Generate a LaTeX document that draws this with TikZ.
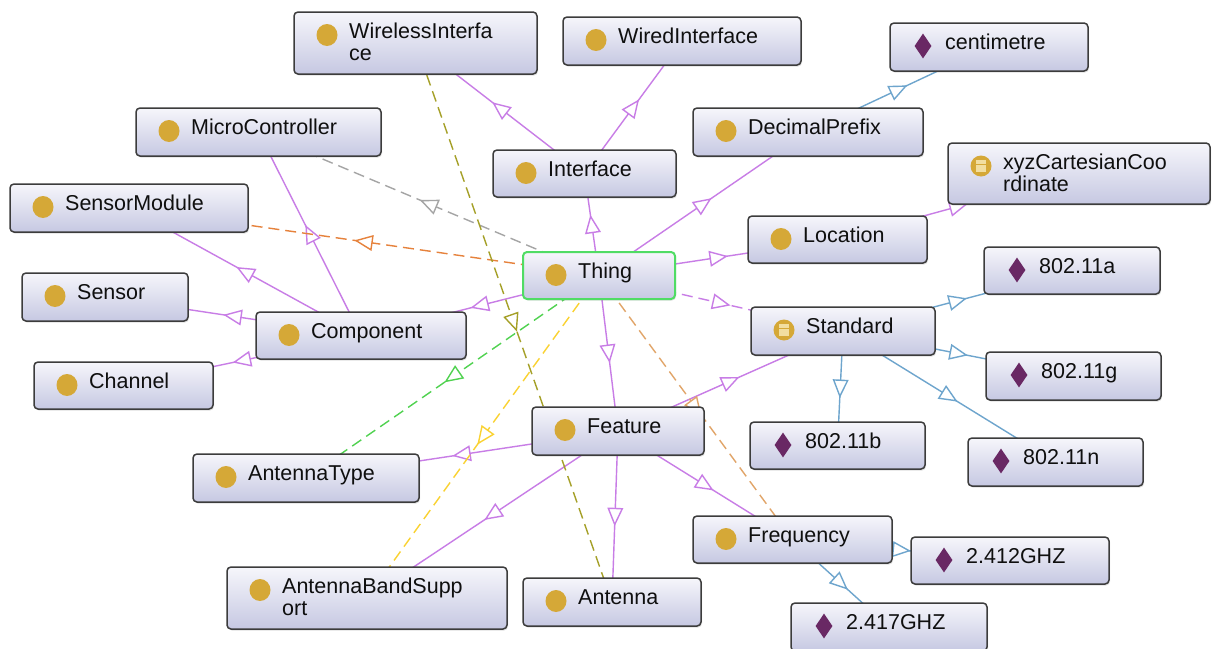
\documentclass[tikz,border=0pt]{standalone}
\usepackage{fontspec}
\setmainfont{Liberation Sans}
\usetikzlibrary{shapes.geometric,backgrounds,decorations.markings,shadows}

\definecolor{ogGold}{RGB}{213,168,55}
\definecolor{ogPale}{RGB}{242,222,160}
\definecolor{ogDia}{RGB}{105,40,100}
\definecolor{ogPurp}{RGB}{200,125,230}
\definecolor{ogBlue}{RGB}{110,165,205}
\definecolor{ogGray}{RGB}{165,165,165}
\definecolor{ogOrange}{RGB}{230,130,60}
\definecolor{ogOlive}{RGB}{165,160,40}
\definecolor{ogGreen}{RGB}{80,210,80}
\definecolor{ogYellow}{RGB}{250,210,50}
\definecolor{ogTan}{RGB}{225,165,105}
\definecolor{ogBorder}{RGB}{60,60,60}
\definecolor{ogThingBorder}{RGB}{80,220,100}
\definecolor{ogTop}{RGB}{246,246,251}
\definecolor{ogBot}{RGB}{198,200,226}
\definecolor{ogText}{RGB}{15,15,15}

\tikzset{
  ogbox/.style={draw=ogBorder, line width=1.5pt, rounded corners=4pt,
    top color=ogTop, bottom color=ogBot, inner sep=0pt,
    drop shadow={opacity=0.25, shadow xshift=1pt, shadow yshift=-1.5pt}},
  ogtext/.style={anchor=base west, inner sep=0pt,
    font=\fontsize{21.5}{22}\selectfont, text=ogText},
  ogC/.style={ellipse, fill=ogGold, minimum width=21pt, minimum height=22pt, inner sep=0pt},
  ogI/.style={diamond, fill=ogDia, minimum width=17pt, minimum height=25pt, inner sep=0pt},
  ogE/.style={circle, fill=ogGold, minimum size=21pt, inner sep=0pt,
    path picture={
      \fill[ogPale] ([xshift=-5pt,yshift=-6pt]path picture bounding box.center)
        rectangle ([xshift=5pt,yshift=6pt]path picture bounding box.center);
      \draw[ogGold, line width=1.2pt] ([xshift=-5pt,yshift=1.5pt]path picture bounding box.center)
        -- ([xshift=5pt,yshift=1.5pt]path picture bounding box.center);}},
  ogedge/.style={draw=#1, line width=1.4pt, postaction={decorate},
    decoration={markings, mark=at position 0.5 with {
      \draw[draw=#1, fill=white, solid, line width=1.4pt, line join=miter]
        (8pt,0pt) -- (-8pt,7pt) -- (-8pt,-7pt) -- cycle;}}},
  ogdash/.style={ogedge=#1, dash pattern=on 11pt off 6pt},
}

% name, left, top, width, height, icon style, line 1, line 2, extra box style
\newcommand{\ogbox}[9]{%
  \node[ogbox, minimum width=#4pt, minimum height=#5pt, #9] (#1) at ({#2+#4/2},{#3+#5/2}) {};
  \node[#6] (#1-i) at ({#2+33},{#3+23}) {};
  \node[ogtext] (#1-t) at ({#2+55},{#3+26}) {#7};
  \if\relax\detokenize{#8}\relax\else
    \node[ogtext] (#1-u) at ({#2+55},{#3+48}) {#8};
  \fi
}

\begin{document}
\begin{tikzpicture}[x=1pt, y=-1pt]
\useasboundingbox (0,0) rectangle (1214,648);

\ogbox{wireless}{294}{12}{243}{62}{ogC}{WirelessInterfa}{ce}{}
\ogbox{wired}{563}{17}{238}{48}{ogC}{WiredInterface}{}{}
\ogbox{centi}{890}{23}{198}{48}{ogI}{centimetre}{}{}
\ogbox{micro}{136}{108}{245}{48}{ogC}{MicroController}{}{}
\ogbox{decimal}{693}{108}{230}{48}{ogC}{DecimalPrefix}{}{}
\ogbox{interface}{493}{150}{183}{47}{ogC}{Interface}{}{}
\ogbox{xyz}{948}{143}{262}{61}{ogE}{xyzCartesianCoo}{rdinate}{}
\ogbox{sensormod}{10}{184}{238}{48}{ogC}{SensorModule}{}{}
\ogbox{location}{748}{216}{179}{47}{ogC}{Location}{}{}
\ogbox{thing}{523}{252}{152}{47}{ogC}{Thing}{}{draw=ogThingBorder, line width=2pt}
\ogbox{sa}{984}{247}{176}{47}{ogI}{802.11a}{}{}
\ogbox{sensor}{22}{273}{166}{48}{ogC}{Sensor}{}{}
\ogbox{standard}{751}{307}{184}{48}{ogE}{Standard}{}{}
\ogbox{component}{256}{312}{210}{47}{ogC}{Component}{}{}
\ogbox{sg}{986}{352}{175}{48}{ogI}{802.11g}{}{}
\ogbox{channel}{34}{362}{179}{47}{ogC}{Channel}{}{}
\ogbox{feature}{532}{407}{172}{48}{ogC}{Feature}{}{}
\ogbox{sb}{750}{422}{175}{47}{ogI}{802.11b}{}{}
\ogbox{sn}{968}{438}{175}{48}{ogI}{802.11n}{}{}
\ogbox{antennatype}{193}{454}{226}{48}{ogC}{AntennaType}{}{}
\ogbox{frequency}{693}{516}{199}{47}{ogC}{Frequency}{}{}
\ogbox{ghza}{911}{537}{198}{47}{ogI}{2.412GHZ}{}{}
\ogbox{bandsupport}{227}{567}{280}{62}{ogC}{AntennaBandSupp}{ort}{}
\ogbox{antenna}{523}{578}{178}{48}{ogC}{Antenna}{}{}
\ogbox{ghzb}{791}{603}{196}{48}{ogI}{2.417GHZ}{}{}

\begin{pgfonlayer}{background}
\fill[white] (0,0) rectangle (1214,648);
% subclass edges (purple)
\draw[ogedge=ogPurp] (thing.center) -- (interface.center);
\draw[ogedge=ogPurp] (interface.center) -- (wireless.center);
\draw[ogedge=ogPurp] (interface.center) -- (wired.center);
\draw[ogedge=ogPurp] (thing.center) -- (decimal.center);
\draw[ogedge=ogPurp] (thing.center) -- (location.center);
\draw[ogedge=ogPurp] (location.center) -- (xyz.center);
\draw[ogedge=ogPurp] (thing.center) -- (feature.center);
\draw[ogedge=ogPurp] (thing.center) -- (component.center);
\draw[ogedge=ogPurp] (component.center) -- (sensor.center);
\draw[ogedge=ogPurp] (component.center) -- (channel.center);
\draw[ogedge=ogPurp] (component.center) -- (sensormod.center);
\draw[ogedge=ogPurp] (component.center) -- (micro.center);
\draw[ogedge=ogPurp] (feature.center) -- (standard.center);
\draw[ogedge=ogPurp] (feature.center) -- (antennatype.center);
\draw[ogedge=ogPurp] (feature.center) -- (bandsupport.center);
\draw[ogedge=ogPurp] (feature.center) -- (antenna.center);
\draw[ogedge=ogPurp] (feature.center) -- (frequency.center);
\draw[ogdash=ogPurp] (thing.center) -- (standard.center);
% individuals (blue)
\draw[ogedge=ogBlue] (decimal.center) -- (centi.center);
\draw[ogedge=ogBlue] (standard.center) -- (sa.center);
\draw[ogedge=ogBlue] (standard.center) -- (sg.center);
\draw[ogedge=ogBlue] (standard.center) -- (sb.center);
\draw[ogedge=ogBlue] (standard.center) -- (sn.center);
\draw[ogedge=ogBlue] (frequency.center) -- (ghza.center);
\draw[ogedge=ogBlue] (frequency.center) -- (ghzb.center);
% properties (dashed)
\draw[ogdash=ogGray] (thing.center) -- (micro.center);
\draw[ogdash=ogOrange] (thing.center) -- (sensormod.center);
\draw[ogdash=ogOlive] (wireless.center) -- (antenna.center);
\draw[ogdash=ogGreen] (thing.center) -- (antennatype.center);
\draw[ogdash=ogYellow] (thing.center) -- (bandsupport.center);
\draw[ogdash=ogTan] (thing.center) -- (frequency.center);
\end{pgfonlayer}
\end{tikzpicture}
\end{document}
